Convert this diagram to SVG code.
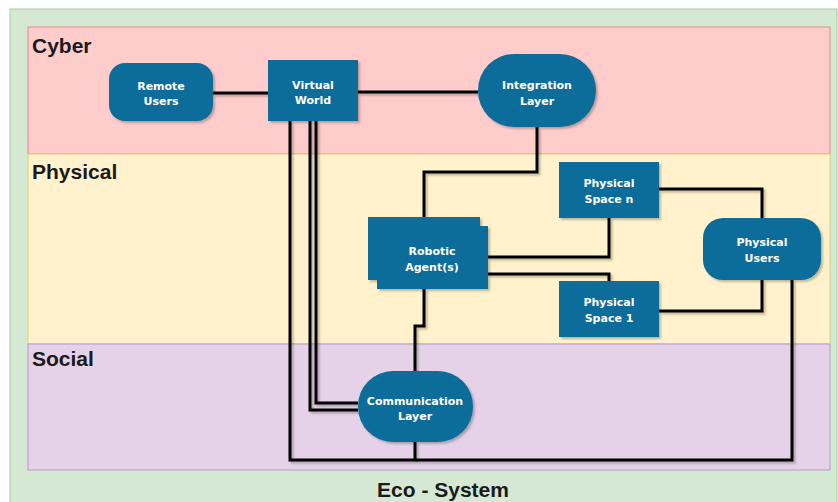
<svg xmlns="http://www.w3.org/2000/svg" width="838" height="502" viewBox="0 0 838 502">
<defs>
<filter id="sh" filterUnits="userSpaceOnUse" x="0" y="0" width="838" height="502">
<feDropShadow dx="2" dy="2" stdDeviation="1" flood-color="#000" flood-opacity="0.25"/>
</filter>
</defs>
<style>
.node{fill:#0a6d9a;filter:url(#sh);}
.nt{fill:#ffffff;font-family:"DejaVu Sans",Verdana,sans-serif;font-weight:bold;font-size:11px;text-anchor:middle;}
.band{font-family:"Liberation Sans",Arial,sans-serif;font-weight:bold;font-size:21px;fill:#1a1a1a;}
.ln{fill:none;stroke:#000;stroke-width:3;stroke-linejoin:miter;filter:url(#sh);}
</style>
<rect x="0" y="0" width="838" height="502" fill="#ffffff"/>
<rect x="10" y="9" width="827" height="500" fill="#d5e8d4" stroke="#9fcf9c" stroke-width="1"/>
<rect x="28" y="27" width="802" height="127" fill="#ffcccc" stroke="#e38a8a" stroke-width="1"/>
<rect x="28" y="154" width="802" height="190" fill="#fff2cc" stroke="#e6c97a" stroke-width="1"/>
<rect x="28" y="344" width="802" height="126" fill="#e6d2e8" stroke="#b59bc4" stroke-width="1"/>
<text class="band" x="32" y="53">Cyber</text>
<text class="band" x="32" y="179">Physical</text>
<text class="band" x="32" y="366">Social</text>
<text class="band" x="443" y="497" text-anchor="middle">Eco - System</text>

<g id="connectors">
<path class="ln" d="M213,93 H268"/>
<path class="ln" d="M358,92 H478"/>
<path class="ln" d="M537,127 V172 H424 V217"/>
<path class="ln" d="M424,289 V326 H415 V371"/>
<path class="ln" d="M488,257 H609 V218"/>
<path class="ln" d="M488,274 H609 V281"/>
<path class="ln" d="M659,189 H762 V218"/>
<path class="ln" d="M659,311 H762 V280"/>
<path class="ln" d="M792,280 V460 H290 V121"/>
<path class="ln" d="M415,442 V460"/>
<path class="ln" d="M310,121 V410 H358"/>
<path class="ln" d="M316,121 V403 H358"/>
</g>

<g id="remote-users">
<rect class="node" x="109" y="63" width="104" height="58" rx="16"/>
<text class="nt" x="161" y="90">Remote</text>
<text class="nt" x="161" y="105">Users</text>
</g>
<g id="virtual-world">
<rect class="node" x="268" y="60" width="90" height="61"/>
<text class="nt" x="313" y="89">Virtual</text>
<text class="nt" x="313" y="104">World</text>
</g>
<g id="integration-layer">
<rect class="node" x="478" y="54" width="118" height="73" rx="36"/>
<text class="nt" x="537" y="89">Integration</text>
<text class="nt" x="537" y="105">Layer</text>
</g>
<g id="robotic-agents">
<path class="node" d="M368,217 H480 V226 H488 V289 H377 V280 H368 Z"/>
<text class="nt" x="432" y="255">Robotic</text>
<text class="nt" x="432" y="271">Agent(s)</text>
</g>
<g id="physical-space-n">
<rect class="node" x="559" y="162" width="100" height="56"/>
<text class="nt" x="609" y="187">Physical</text>
<text class="nt" x="609" y="203">Space n</text>
</g>
<g id="physical-users">
<rect class="node" x="703" y="218" width="118" height="62" rx="20"/>
<text class="nt" x="762" y="246">Physical</text>
<text class="nt" x="762" y="262">Users</text>
</g>
<g id="physical-space-1">
<rect class="node" x="559" y="281" width="100" height="56"/>
<text class="nt" x="609" y="306">Physical</text>
<text class="nt" x="609" y="322">Space 1</text>
</g>
<g id="communication-layer">
<rect class="node" x="358" y="371" width="115" height="71" rx="35"/>
<text class="nt" x="415" y="405">Communication</text>
<text class="nt" x="415" y="420">Layer</text>
</g>
</svg>
